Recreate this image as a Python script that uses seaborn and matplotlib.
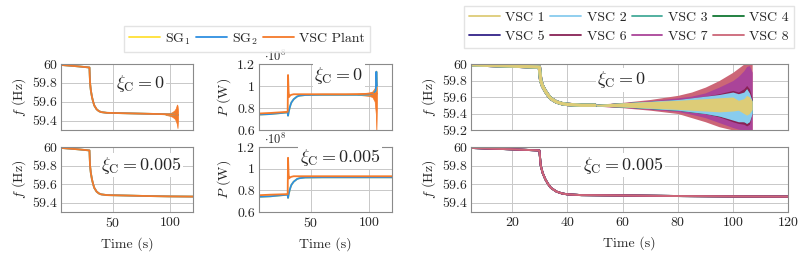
import seaborn as sns
import matplotlib.pyplot as plt
import numpy as np

# ---- data ----
# left column: frequency (Hz)
t_f0 = [5, 10, 20, 29.8, 30.3, 31, 32, 33, 34, 36, 38, 40, 45, 60, 80, 95, 100, 103, 105, 106, 107]
f_vsc0 = [59.99, 59.985, 59.975, 59.963, 59.80, 59.72, 59.65, 59.60, 59.56, 59.52, 59.50, 59.49, 59.482, 59.478, 59.472, 59.468, 59.465, 59.465, 59.46, 59.46, 59.46]
t_f0_osc = [96, 100, 102, 104, 105, 106, 106.5, 107]
f0_osc_hi = [59.47, 59.48, 59.49, 59.51, 59.53, 59.57, 59.56, 59.50]
f0_osc_lo = [59.46, 59.45, 59.44, 59.42, 59.40, 59.36, 59.32, 59.42]

t_f5 = [5, 10, 20, 29.8, 30.3, 31, 32, 33, 34, 36, 38, 40, 45, 60, 80, 100, 120]
f_vsc5 = [59.99, 59.985, 59.975, 59.963, 59.80, 59.72, 59.65, 59.60, 59.56, 59.52, 59.50, 59.49, 59.482, 59.478, 59.472, 59.468, 59.466]

# middle column: active power (x1e8 W)
t_p0 = [5, 15, 29.8, 30.1, 30.6, 31, 32, 33, 35, 38, 40, 45, 60, 80, 95, 100, 104, 106, 106.5, 107]
p_sg2_0 = [0.74, 0.745, 0.76, 0.73, 0.76, 0.78, 0.82, 0.85, 0.88, 0.905, 0.912, 0.918, 0.92, 0.92, 0.92, 0.922, 0.93, 0.96, 1.13, 1.0]
p_vsc_0 = [0.75, 0.755, 0.765, 1.10, 0.95, 0.90, 0.915, 0.92, 0.925, 0.925, 0.925, 0.925, 0.925, 0.925, 0.927, 0.93, 0.93, 0.93, 0.93, 0.93]
t_p0_osc = [90, 100, 103, 105, 106, 106.5, 107]
p0_osc_hi = [0.93, 0.94, 0.95, 0.98, 1.03, 1.08, 0.95]
p0_osc_lo = [0.92, 0.91, 0.90, 0.86, 0.75, 0.58, 0.85]

t_p5 = [5, 15, 29.8, 30.1, 30.6, 31, 32, 33, 35, 38, 40, 45, 60, 80, 100, 120]
p_sg2_5 = [0.74, 0.745, 0.76, 0.73, 0.76, 0.78, 0.82, 0.85, 0.88, 0.905, 0.912, 0.918, 0.92, 0.92, 0.92, 0.92]
p_vsc_5 = [0.755, 0.76, 0.765, 1.10, 0.95, 0.91, 0.92, 0.925, 0.93, 0.93, 0.93, 0.93, 0.93, 0.93, 0.93, 0.93]

# right column: VSC frequencies
t_r = [5, 10, 20, 29.8, 30.3, 31, 32, 33, 34, 36, 38, 40, 45, 50]
f_r = [59.99, 59.985, 59.975, 59.963, 59.80, 59.73, 59.67, 59.62, 59.58, 59.54, 59.52, 59.51, 59.50, 59.50]
t_env = [50, 60, 70, 80, 85, 90, 95, 100, 102, 104, 105, 106, 107]
env_hi = {  # upper envelope per VSC
    'VSC 8': [59.51, 59.535, 59.57, 59.62, 59.66, 59.72, 59.80, 59.90, 59.95, 60.0, 60.0, 60.0, 60.0],
    'VSC 7': [59.51, 59.53, 59.555, 59.59, 59.61, 59.65, 59.72, 59.80, 59.85, 59.92, 59.97, 59.98, 59.9],
    'VSC 6': [59.51, 59.53, 59.55, 59.57, 59.59, 59.61, 59.64, 59.68, 59.66, 59.70, 59.74, 59.70, 59.58],
    'VSC 5': [59.51, 59.53, 59.545, 59.565, 59.58, 59.60, 59.62, 59.64, 59.62, 59.64, 59.68, 59.63, 59.55],
    'VSC 4': [59.51, 59.53, 59.545, 59.565, 59.58, 59.60, 59.62, 59.64, 59.62, 59.64, 59.69, 59.63, 59.55],
    'VSC 3': [59.51, 59.53, 59.545, 59.565, 59.58, 59.60, 59.62, 59.64, 59.62, 59.65, 59.70, 59.63, 59.55],
    'VSC 2': [59.51, 59.53, 59.55, 59.57, 59.59, 59.61, 59.63, 59.66, 59.64, 59.66, 59.70, 59.65, 59.55],
    'VSC 1': [59.51, 59.53, 59.545, 59.56, 59.57, 59.58, 59.59, 59.60, 59.56, 59.58, 59.62, 59.60, 59.55],
}
env_lo = {
    'VSC 8': [59.49, 59.47, 59.44, 59.40, 59.35, 59.30, 59.24, 59.20, 59.20, 59.20, 59.20, 59.20, 59.20],
    'VSC 7': [59.49, 59.475, 59.45, 59.425, 59.39, 59.35, 59.29, 59.23, 59.21, 59.20, 59.20, 59.20, 59.20],
    'VSC 6': [59.49, 59.48, 59.46, 59.44, 59.42, 59.40, 59.36, 59.30, 59.28, 59.27, 59.25, 59.27, 59.40],
    'VSC 5': [59.49, 59.48, 59.46, 59.44, 59.42, 59.40, 59.37, 59.33, 59.31, 59.31, 59.29, 59.31, 59.42],
    'VSC 4': [59.49, 59.48, 59.46, 59.44, 59.42, 59.40, 59.37, 59.33, 59.31, 59.31, 59.29, 59.31, 59.42],
    'VSC 3': [59.49, 59.48, 59.46, 59.44, 59.42, 59.40, 59.37, 59.33, 59.31, 59.30, 59.28, 59.31, 59.42],
    'VSC 2': [59.49, 59.48, 59.46, 59.44, 59.42, 59.40, 59.37, 59.32, 59.30, 59.30, 59.28, 59.30, 59.40],
    'VSC 1': [59.49, 59.48, 59.465, 59.45, 59.44, 59.43, 59.42, 59.43, 59.44, 59.40, 59.38, 59.40, 59.45],
}
t_r5 = [5, 10, 20, 29.8, 30.3, 31, 32, 33, 34, 36, 38, 40, 45, 60, 80, 100, 120]
f_r5 = [59.99, 59.985, 59.975, 59.963, 59.80, 59.72, 59.65, 59.60, 59.56, 59.52, 59.50, 59.49, 59.482, 59.478, 59.472, 59.468, 59.466]

sg_colors = {'SG$_1$': '#FFE135', 'SG$_2$': '#2E8FE0', 'VSC Plant': '#F47A2A'}
vsc_names = ['VSC %d' % i for i in range(1, 9)]
vsc_colors = ['#DDCC77', '#88CCEE', '#44AA99', '#117733', '#332288', '#882255', '#AA4499', '#CC6677']

sns.set_style('whitegrid')
plt.rcParams['font.family'] = 'serif'
plt.rcParams['font.serif'] = ['cmr10', 'DejaVu Serif']
plt.rcParams['mathtext.fontset'] = 'cm'
plt.rcParams['axes.formatter.use_mathtext'] = True
plt.rcParams['axes.unicode_minus'] = False

fs = 10
fig = plt.figure(figsize=(8.05, 2.57), dpi=100)
W, H = 805, 257
def ax_at(x0, x1, y0, y1):
    return fig.add_axes([x0 / W, (H - y1) / H, (x1 - x0) / W, (y1 - y0) / H])

axL0 = ax_at(61, 193, 64, 130)
axL1 = ax_at(61, 193, 147, 212)
axM0 = ax_at(259, 392, 64, 130)
axM1 = ax_at(259, 392, 147, 212)
axR0 = ax_at(471, 788, 64, 130)
axR1 = ax_at(471, 788, 147, 212)

lw = 1.3
# left: frequency, all SG/VSC overlap, orange on top
for ax, t, f in [(axL0, t_f0, f_vsc0), (axL1, t_f5, f_vsc5)]:
    sns.lineplot(x=t, y=f, ax=ax, color=sg_colors['SG$_1$'], lw=lw)
    sns.lineplot(x=t, y=f, ax=ax, color=sg_colors['SG$_2$'], lw=lw)
    sns.lineplot(x=t, y=f, ax=ax, color=sg_colors['VSC Plant'], lw=lw)
axL0.fill_between(t_f0_osc, f0_osc_lo, f0_osc_hi, color=sg_colors['VSC Plant'], lw=0.5)

# middle: power
for ax, t, p2, pv in [(axM0, t_p0, p_sg2_0, p_vsc_0), (axM1, t_p5, p_sg2_5, p_vsc_5)]:
    sns.lineplot(x=t, y=p2, ax=ax, color=sg_colors['SG$_1$'], lw=lw)
    sns.lineplot(x=t, y=p2, ax=ax, color=sg_colors['SG$_2$'], lw=lw)
    sns.lineplot(x=t, y=pv, ax=ax, color=sg_colors['VSC Plant'], lw=lw)
axM0.fill_between(t_p0_osc, p0_osc_lo, p0_osc_hi, color=sg_colors['VSC Plant'], lw=0.5)

# right: VSC frequencies
for name, c in reversed(list(zip(vsc_names, vsc_colors))):
    axR0.fill_between(t_env, env_lo[name], env_hi[name], color=c, lw=0)
    sns.lineplot(x=t_r, y=f_r, ax=axR0, color=c, lw=2.4)
for name, c in zip(vsc_names, vsc_colors):
    sns.lineplot(x=t_r5, y=f_r5, ax=axR1, color=c, lw=1.4)

for ax in [axL0, axL1, axM0, axM1, axR0, axR1]:
    ax.set_xlim(5, 120)
    ax.grid(True, color='#c8c8c8', lw=0.7)
    for s in ax.spines.values():
        s.set_color('#8a8a8a')
        s.set_linewidth(0.8)
    ax.tick_params(labelsize=fs, length=0, pad=3)
for ax in [axL0, axL1, axM0, axM1]:
    ax.set_xticks([50, 100])
for ax in [axR0, axR1]:
    ax.set_xticks([20, 40, 60, 80, 100, 120])
for ax in [axL0, axM0, axR0]:
    ax.tick_params(labelbottom=False)
for ax in [axL0, axL1, axR1]:
    ax.set_ylim(59.3, 60)
    ax.set_yticks([59.4, 59.6, 59.8, 60])
    ax.set_yticklabels(['59.4', '59.6', '59.8', '60'])
axR0.set_ylim(59.2, 60)
axR0.set_yticks([59.2, 59.4, 59.6, 59.8, 60])
axR0.set_yticklabels(['59.2', '59.4', '59.6', '59.8', '60'])
for ax in [axM0, axM1]:
    ax.set_ylim(0.6, 1.2)
    ax.set_yticks([0.6, 0.8, 1.0, 1.2])
    ax.set_yticklabels(['0.6', '0.8', '1', '1.2'])
    ax.text(0.04, 1.0, r'$\cdot 10^8$', transform=ax.transAxes, fontsize=fs - 1, va='bottom', ha='left')
    ax.set_ylabel(r'$P$ (W)', fontsize=fs, labelpad=3)
for ax in [axL0, axL1, axR0, axR1]:
    ax.set_ylabel(r'$f$ (Hz)', fontsize=fs, labelpad=3)
for ax in [axL1, axM1, axR1]:
    ax.set_xlabel('Time (s)', fontsize=fs, labelpad=5)

box = dict(facecolor='white', edgecolor='none', pad=1)
lab = dict(fontsize=13, ha='center', va='center', bbox=box)
axL0.text(0.6, 0.71, r'$\xi_{\rm C} = 0$', transform=axL0.transAxes, **lab)
axL1.text(0.61, 0.72, r'$\xi_{\rm C} = 0.005$', transform=axL1.transAxes, **lab)
axM0.text(0.6, 0.83, r'$\xi_{\rm C} = 0$', transform=axM0.transAxes, **lab)
axM1.text(0.61, 0.84, r'$\xi_{\rm C} = 0.005$', transform=axM1.transAxes, **lab)
axR0.text(0.476, 0.76, r'$\xi_{\rm C} = 0$', transform=axR0.transAxes, **lab)
axR1.text(0.48, 0.72, r'$\xi_{\rm C} = 0.005$', transform=axR1.transAxes, **lab)

# legends
h1 = [plt.Line2D([], [], color=c, lw=1.3) for c in sg_colors.values()]
fig.legend(h1, list(sg_colors.keys()), ncol=3, fontsize=fs, frameon=True, fancybox=False,
           edgecolor='#dddddd', handlelength=2.2, columnspacing=0.4, handletextpad=0.4,
           borderpad=0.35, loc='center', bbox_to_anchor=(247 / W, 1 - 39 / H))
# legend fills column-wise, so reorder to read row-wise 1..4 / 5..8
order = [0, 4, 1, 5, 2, 6, 3, 7]
h2 = [plt.Line2D([], [], color=vsc_colors[i], lw=1.3) for i in order]
fig.legend(h2, [vsc_names[i] for i in order], ncol=4, fontsize=fs, frameon=True, fancybox=False,
           edgecolor='#dddddd', handlelength=2.2, columnspacing=0.4, handletextpad=0.4,
           borderpad=0.35, labelspacing=0.45, loc='center', bbox_to_anchor=(629 / W, 1 - 27 / H))

fig.savefig('out.png', dpi=100)
